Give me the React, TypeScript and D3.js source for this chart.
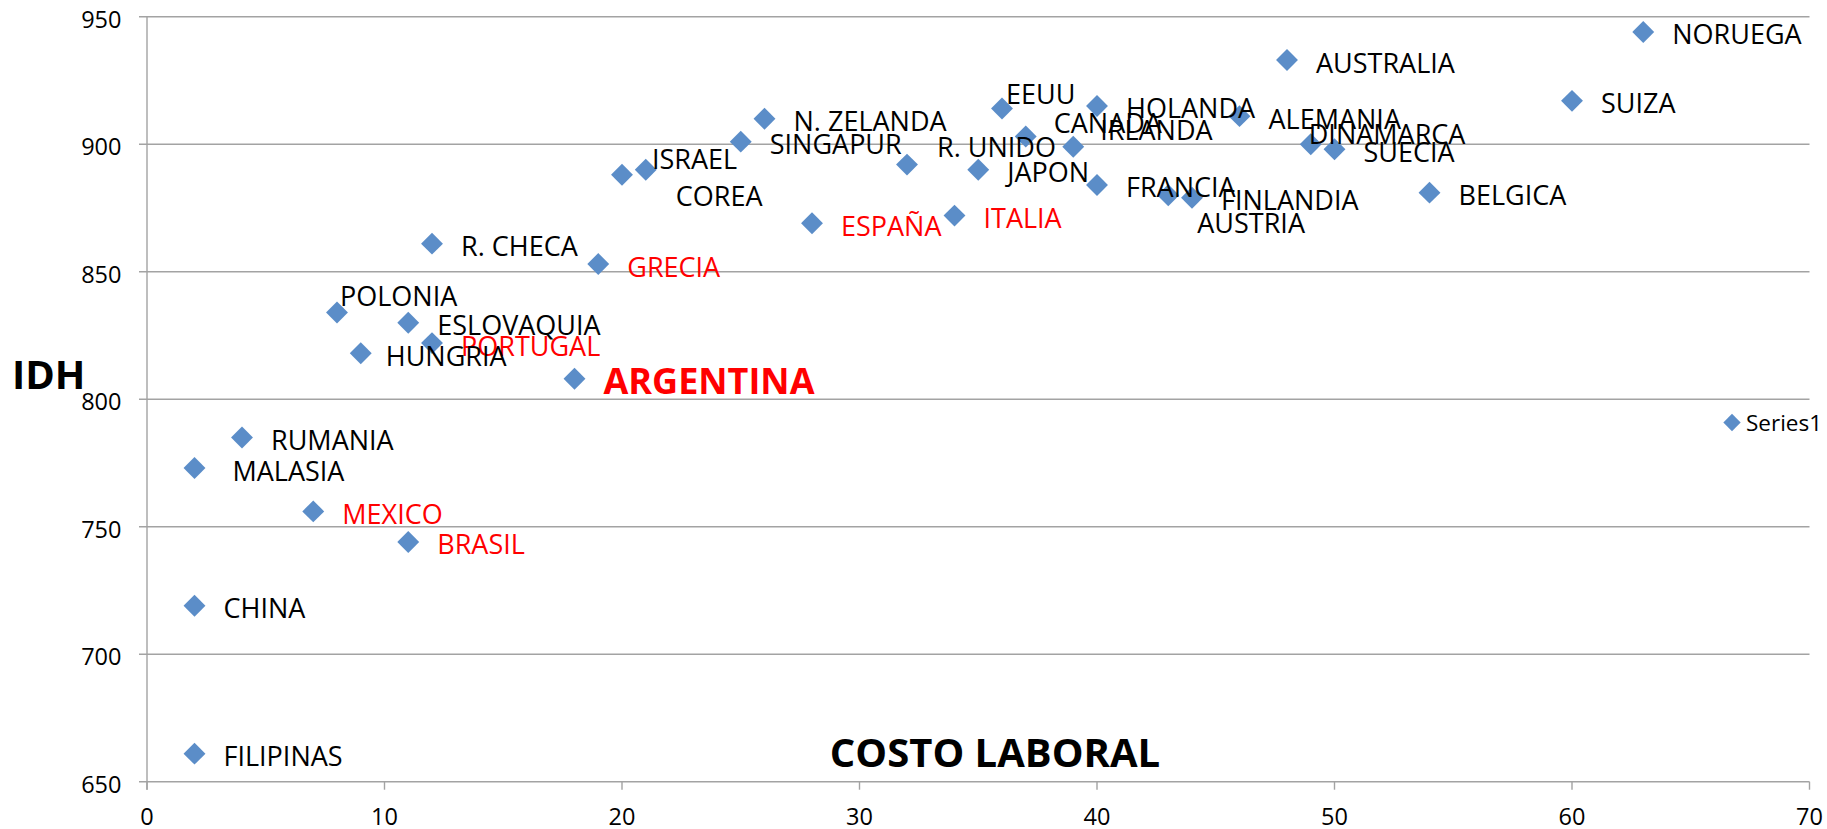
import React, { useEffect, useRef } from "react"
import * as d3 from "d3"

// costo laboral (x) vs IDH (y)
const paises = [
  "NORUEGA", "AUSTRALIA", "SUIZA", "EEUU", "HOLANDA", "ALEMANIA", "N. ZELANDA",
  "SINGAPUR", "CANADA", "IRLANDA", "DINAMARCA", "SUECIA", "R. UNIDO", "JAPON",
  "FRANCIA", "AUSTRIA", "FINLANDIA", "BELGICA", "ISRAEL", "COREA", "GRECIA",
  "ESPAÑA", "ITALIA", "R. CHECA", "POLONIA", "ESLOVAQUIA", "PORTUGAL", "HUNGRIA",
  "ARGENTINA", "RUMANIA", "MALASIA", "MEXICO", "BRASIL", "CHINA", "FILIPINAS",
]
const costoLaboral = [
  63, 48, 60, 36, 40, 46, 26,
  25, 37, 39, 49, 50, 32, 35,
  40, 43, 44, 54, 20, 21, 19,
  28, 34, 12, 8, 11, 12, 9,
  18, 4, 2, 7, 11, 2, 2,
]
const idh = [
  944, 933, 917, 914, 915, 911, 910,
  901, 903, 899, 900, 898, 892, 890,
  884, 880, 879, 881, 888, 890, 853,
  869, 872, 861, 834, 830, 822, 818,
  808, 785, 773, 756, 744, 719, 661,
]
const enRojo = ["GRECIA", "ESPAÑA", "ITALIA", "PORTUGAL", "ARGENTINA", "MEXICO", "BRASIL"]
const ticksX = [0, 10, 20, 30, 40, 50, 60, 70]
const ticksY = [650, 700, 750, 800, 850, 900, 950]
const serie = "Series1"

// etiquetas movidas a mano en el original (px respecto al punto)
const moverEtiqueta: Record<string, [number, number]> = {
  "EEUU": [4, -14],
  "CANADA": [28, -13],
  "IRLANDA": [27, -16],
  "DINAMARCA": [-2, -10],
  "R. UNIDO": [30, -17],
  "AUSTRIA": [29, 28],
  "ISRAEL": [30, -15],
  "COREA": [30, 27],
  "POLONIA": [3, -16],
  "MALASIA": [38, 3],
  "HUNGRIA": [25, 3],
}

const FONT = "'Open Sans', 'Liberation Sans', sans-serif"
const AZUL = "#5b8dc8"
const GRIS = "#a3a3a3"

export default function App() {
  const ref = useRef<SVGSVGElement>(null)

  useEffect(() => {
    const svg = d3.select(ref.current)
    svg.selectAll("*").remove()

    const left = 147, right = 1809.5, top = 16.7, bottom = 781.7
    const x = d3.scaleLinear().domain([0, 70]).range([left, right])
    const y = d3.scaleLinear().domain([650, 950]).range([bottom, top])

    const data = paises.map((p, i) => ({ name: p, x: costoLaboral[i], y: idh[i] }))

    // lineas horizontales + marcas del eje y
    svg.append("g")
      .selectAll("line")
      .data(ticksY)
      .enter().append("line")
      .attr("x1", left - 8)
      .attr("x2", right)
      .attr("y1", d => y(d))
      .attr("y2", d => y(d))
      .attr("stroke", GRIS)
      .attr("stroke-width", 1.4)

    // eje y
    svg.append("line")
      .attr("x1", left).attr("x2", left)
      .attr("y1", top).attr("y2", bottom + 8)
      .attr("stroke", GRIS)
      .attr("stroke-width", 1.4)

    // marcas del eje x
    svg.append("g")
      .selectAll("line")
      .data(ticksX)
      .enter().append("line")
      .attr("x1", d => x(d))
      .attr("x2", d => x(d))
      .attr("y1", bottom)
      .attr("y2", bottom + 8)
      .attr("stroke", GRIS)
      .attr("stroke-width", 1.4)

    svg.append("g")
      .selectAll("text")
      .data(ticksY)
      .enter().append("text")
      .attr("x", left - 25.5)
      .attr("y", d => y(d) + 3)
      .attr("dy", "0.35em")
      .attr("text-anchor", "end")
      .style("font-family", FONT)
      .style("font-size", "23.5px")
      .attr("fill", "#000")
      .text(d => d)

    svg.append("g")
      .selectAll("text")
      .data(ticksX)
      .enter().append("text")
      .attr("x", d => x(d))
      .attr("y", 825)
      .attr("text-anchor", "middle")
      .style("font-family", FONT)
      .style("font-size", "23.5px")
      .attr("fill", "#000")
      .text(d => d)

    // titulos de ejes
    svg.append("text")
      .attr("x", 995)
      .attr("y", 766.5)
      .attr("text-anchor", "middle")
      .style("font-family", FONT)
      .style("font-size", "40px")
      .style("font-weight", "bold")
      .text("COSTO LABORAL")

    svg.append("text")
      .attr("x", 12)
      .attr("y", 389)
      .style("font-family", FONT)
      .style("font-size", "40px")
      .style("font-weight", "bold")
      .text("IDH")

    // puntos
    const diamond = d3.symbol().type(d3.symbolSquare).size(240)
    svg.append("g")
      .selectAll("path")
      .data(data)
      .enter().append("path")
      .attr("d", diamond)
      .attr("transform", d => "translate(" + x(d.x) + "," + y(d.y) + ") rotate(45)")
      .attr("fill", AZUL)

    // etiquetas
    svg.append("g")
      .selectAll("text")
      .data(data)
      .enter().append("text")
      .attr("x", d => x(d.x) + (moverEtiqueta[d.name] ? moverEtiqueta[d.name][0] : 29))
      .attr("y", d => y(d.y) + (moverEtiqueta[d.name] ? moverEtiqueta[d.name][1] : 3))
      .attr("dy", "0.35em")
      .style("font-family", FONT)
      .style("font-size", d => d.name === "ARGENTINA" ? "36px" : "27px")
      .style("font-weight", d => d.name === "ARGENTINA" ? "bold" : "normal")
      .attr("fill", d => enRojo.includes(d.name) ? "#ff0000" : "#000")
      .text(d => d.name)

    // leyenda
    const ley = svg.append("g").attr("transform", "translate(1732,422.5)")
    ley.append("path")
      .attr("d", d3.symbol().type(d3.symbolSquare).size(150))
      .attr("transform", "rotate(45)")
      .attr("fill", AZUL)
    ley.append("text")
      .attr("x", 14)
      .attr("y", 1)
      .attr("dy", "0.35em")
      .style("font-family", FONT)
      .style("font-size", "22.5px")
      .text(serie)
  }, [])

  return (
    <svg
      ref={ref}
      width={1827}
      height={829}
      style={{ position: "absolute", left: 0, top: 0, background: "#fff", display: "block" }}
    />
  )
}
